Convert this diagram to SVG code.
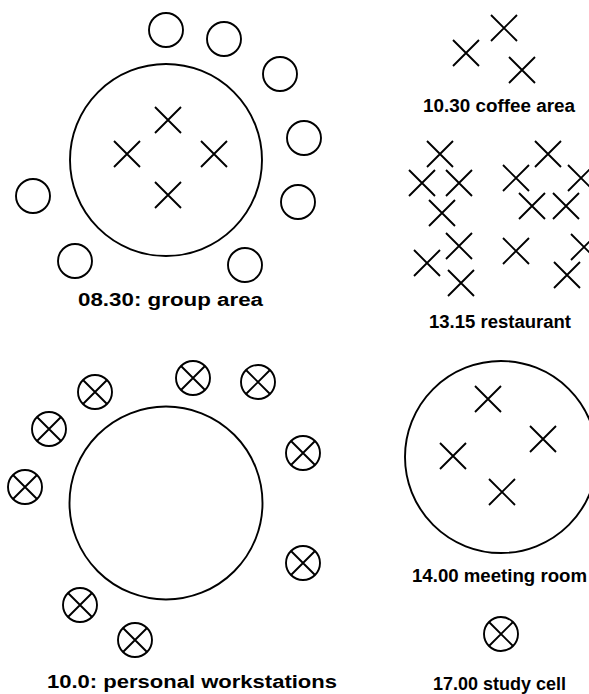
<svg xmlns="http://www.w3.org/2000/svg" xmlns:xlink="http://www.w3.org/1999/xlink" width="589" height="694" viewBox="0 0 589 694">
<style>
.ring{fill:none;stroke:#000;stroke-width:1.9}
.x{fill:none;stroke:#000;stroke-width:1.9;stroke-linecap:butt}
.lbl{font-family:"Liberation Sans",Arial,sans-serif;font-weight:bold;font-size:18px;fill:#000}
</style>
<defs>
<path id="cross" class="x" d="M-13,-13L13,13M13,-13L-13,13"/>
<circle id="seat" class="ring" r="17"/>
<g id="xseat"><circle class="ring" r="17"/><path class="x" d="M-12,-12L12,12M12,-12L-12,12"/></g>
</defs>
<rect width="589" height="694" fill="#fff"/>
<g id="connectors"/>
<g id="group-area">
<circle class="ring" cx="166" cy="160" r="96"/>
<use href="#cross" x="168" y="120"/>
<use href="#cross" x="127" y="154"/>
<use href="#cross" x="214" y="154"/>
<use href="#cross" x="168" y="195"/>
<use href="#seat" x="166" y="30"/>
<use href="#seat" x="224" y="39"/>
<use href="#seat" x="280" y="74"/>
<use href="#seat" x="304" y="138"/>
<use href="#seat" x="298" y="202"/>
<use href="#seat" x="245" y="265"/>
<use href="#seat" x="75" y="261"/>
<use href="#seat" x="33" y="196"/>
<text class="lbl" x="78" y="306" textLength="185" lengthAdjust="spacingAndGlyphs">08.30: group area</text>
</g>
<g id="coffee-area">
<use href="#cross" x="466" y="53"/>
<use href="#cross" x="504" y="28"/>
<use href="#cross" x="522" y="70"/>
<text class="lbl" x="423" y="112" textLength="152" lengthAdjust="spacingAndGlyphs">10.30 coffee area</text>
</g>
<g id="restaurant">
<use href="#cross" x="440" y="154"/>
<use href="#cross" x="422" y="183"/>
<use href="#cross" x="459" y="183"/>
<use href="#cross" x="442" y="213"/>
<use href="#cross" x="459" y="246"/>
<use href="#cross" x="427" y="263"/>
<use href="#cross" x="461" y="283"/>
<use href="#cross" x="548" y="154"/>
<use href="#cross" x="516" y="178"/>
<use href="#cross" x="581" y="178"/>
<use href="#cross" x="532" y="206"/>
<use href="#cross" x="566" y="206"/>
<use href="#cross" x="516" y="251"/>
<use href="#cross" x="584" y="247"/>
<use href="#cross" x="567" y="275"/>
<text class="lbl" x="429" y="328" textLength="142" lengthAdjust="spacingAndGlyphs">13.15 restaurant</text>
</g>
<g id="personal-workstations">
<circle class="ring" cx="166" cy="503" r="96.5"/>
<use href="#xseat" x="95" y="392"/>
<use href="#xseat" x="49" y="429"/>
<use href="#xseat" x="25" y="487"/>
<use href="#xseat" x="193" y="378"/>
<use href="#xseat" x="258" y="382"/>
<use href="#xseat" x="303" y="453"/>
<use href="#xseat" x="303" y="563"/>
<use href="#xseat" x="80" y="605"/>
<use href="#xseat" x="135" y="640"/>
<text class="lbl" x="47" y="688" textLength="290" lengthAdjust="spacingAndGlyphs">10.0: personal workstations</text>
</g>
<g id="meeting-room">
<circle class="ring" cx="501" cy="457" r="96"/>
<use href="#cross" x="488" y="399"/>
<use href="#cross" x="543" y="439"/>
<use href="#cross" x="453" y="456"/>
<use href="#cross" x="502" y="492"/>
<text class="lbl" x="412" y="582" textLength="175" lengthAdjust="spacingAndGlyphs">14.00 meeting room</text>
</g>
<g id="study-cell">
<use href="#xseat" x="501" y="634"/>
<text class="lbl" x="433" y="690" textLength="133" lengthAdjust="spacingAndGlyphs">17.00 study cell</text>
</g>
</svg>
